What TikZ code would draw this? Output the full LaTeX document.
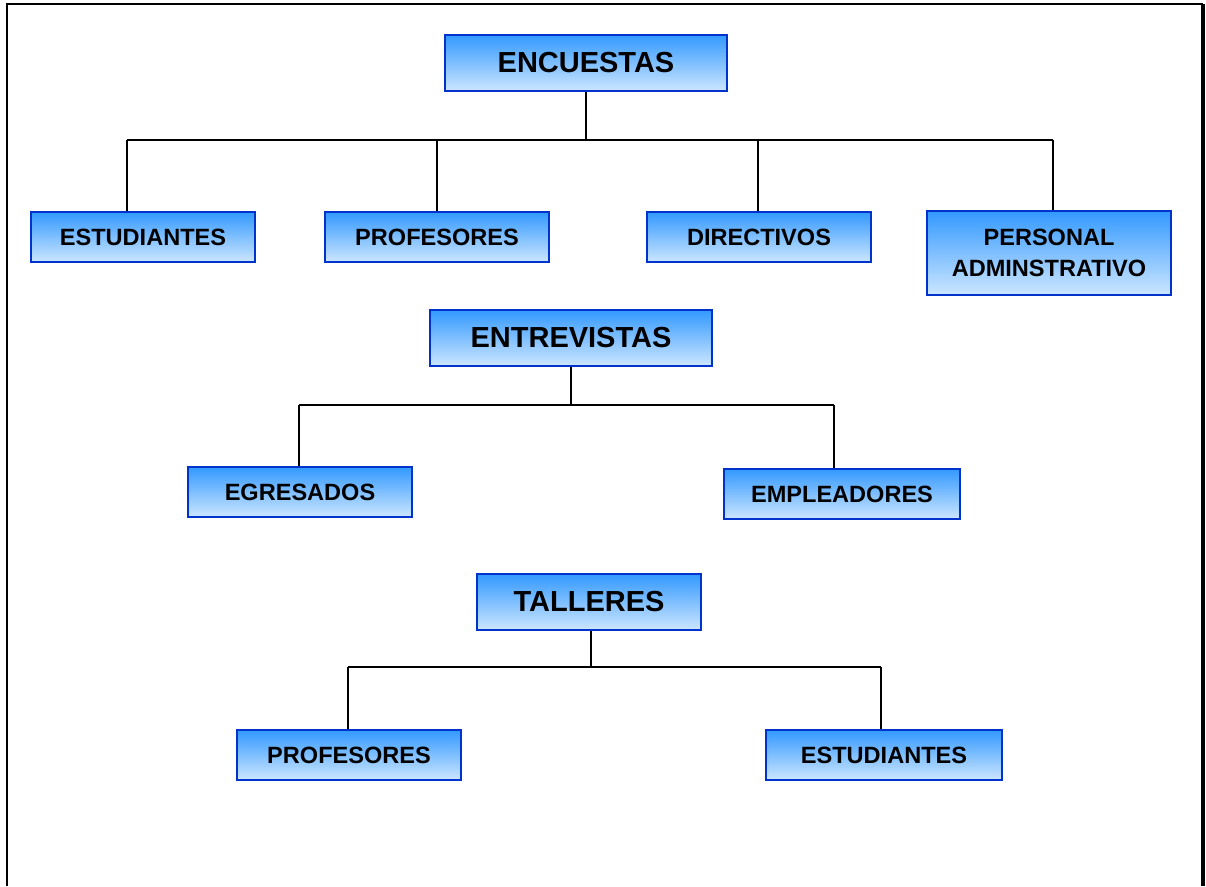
\documentclass[tikz,border=0pt]{standalone}
\usepackage{fontspec}
\setmainfont{Liberation Sans}
\definecolor{boxedge}{RGB}{0,51,204}
\definecolor{boxtop}{RGB}{51,153,255}
\definecolor{boxbottom}{RGB}{204,230,255}

\begin{document}
\begin{tikzpicture}[x=0.02cm, y=-0.02cm,
    block/.style={rectangle, draw=boxedge, line width=1.5pt, top color=boxtop, bottom color=boxbottom,
                  align=center, font=\bfseries\fontsize{13.4}{17.6}\selectfont,
                  minimum width=4.48cm, minimum height=1cm, inner sep=0pt},
    head/.style={block, font=\bfseries\fontsize{16.5}{20}\selectfont, minimum width=5.64cm, minimum height=1.12cm},
    link/.style={draw=black, line width=1.1pt}]

% page size and the open frame
\useasboundingbox (0,0) rectangle (1206,886);
\draw[line width=1.2pt] (7,886) -- (7,4) -- (1203,4);
\draw[line width=2.3pt] (1203,4) -- (1203,886);

% the three heads
\node[head] (enc) at (586,63) {ENCUESTAS};
\node[head] (ent) at (571,338) {ENTREVISTAS};
\node[head, minimum width=4.48cm] (tal) at (589,602) {TALLERES};

% children of ENCUESTAS
\foreach \name/\x/\txt in {est/143/ESTUDIANTES, prof/437/PROFESORES, dir/759/DIRECTIVOS} {
    \node[block] (\name) at (\x,237) {\txt};
}
\node[block, minimum width=4.88cm, minimum height=1.68cm] (pers) at (1049,253) {PERSONAL\\ADMINSTRATIVO};

% children of ENTREVISTAS
\node[block] (egr) at (300,492) {EGRESADOS};
\node[block, minimum width=4.72cm] (emp) at (842,494) {EMPLEADORES};

% children of TALLERES
\node[block] (tprof) at (349,755) {PROFESORES};
\node[block, minimum width=4.72cm] (test) at (884,755) {ESTUDIANTES};

% bus points
\coordinate (e1) at (127,140);
\coordinate (e2) at (437,140);
\coordinate (e3) at (758,140);
\coordinate (e4) at (1053,140);
\coordinate (n1) at (299,405);
\coordinate (n2) at (834,405);
\coordinate (t1) at (348,667);
\coordinate (t2) at (881,667);

% ENCUESTAS lines
\draw[link] (enc.south) -- (enc.south |- e1);
\draw[link] (e1) -- (e4);
\foreach \p/\c in {e1/est, e2/prof, e3/dir, e4/pers} {
    \draw[link] (\p) -- (\p |- \c.north);
}

% ENTREVISTAS lines
\draw[link] (ent.south) -- (ent.south |- n1);
\draw[link] (n1) -- (n2);
\draw[link] (n1) -- (n1 |- egr.north);
\draw[link] (n2) -- (n2 |- emp.north);

% TALLERES lines
\draw[link] (tal.south -| 591,0) -- (591,667);
\draw[link] (t1) -- (t2);
\draw[link] (t1) -- (t1 |- tprof.north);
\draw[link] (t2) -- (t2 |- test.north);

\end{tikzpicture}
\end{document}
